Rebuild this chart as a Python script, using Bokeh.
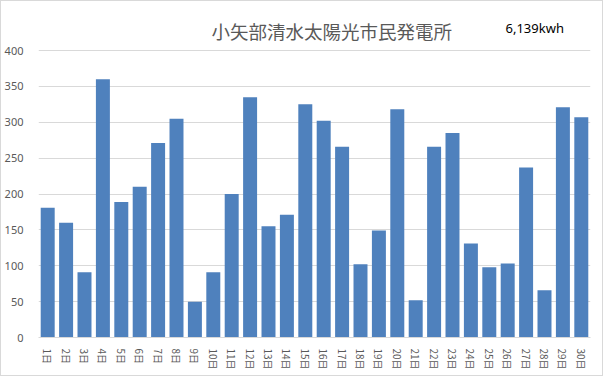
from bokeh.plotting import figure
from bokeh.models import Range1d, FixedTicker, Label, FactorRange
from bokeh.embed import file_html
from bokeh.resources import INLINE

title_text = "小矢部清水太陽光市民発電所"
total_text = "6,139kwh"
days = [f"{i}日" for i in range(1, 31)]
values = [181, 160, 91, 360, 189, 210, 271, 305, 50, 91,
          200, 335, 155, 171, 325, 302, 266, 102, 149, 318,
          52, 266, 285, 131, 98, 103, 237, 66, 321, 307]
y_ticks = [0, 50, 100, 150, 200, 250, 300, 350, 400]

# The frame reaches the top of the canvas so that the title texts (frame-clipped
# labels) can sit above the 400 gridline; the axis max (400) lands 287px above 0.
frame_h = 336
y_top = 400 * frame_h / 287.0

p = figure(width=603, height=376, x_range=FactorRange(*days, range_padding=0),
           y_range=Range1d(0, y_top), output_backend="svg", toolbar_location=None,
           min_border_left=37, min_border_right=14, min_border_top=0, min_border_bottom=40)
p.styles = {"border": "1px solid #d9d9d9"}

p.vbar(x=days, top=values, width=0.76, color="#4f81bd", line_color=None)

p.outline_line_color = None
p.xgrid.grid_line_color = None
p.ygrid.grid_line_color = "#d9d9d9"
p.ygrid.grid_line_width = 1

p.yaxis.ticker = FixedTicker(ticks=y_ticks)
p.yaxis.axis_line_color = None
p.yaxis.major_tick_line_color = None
p.yaxis.minor_tick_line_color = None
p.yaxis.major_label_text_color = "#595959"
p.yaxis.major_label_text_font = "Noto Sans"
p.yaxis.major_label_text_font_size = "11px"
p.yaxis.major_label_standoff = 9

p.xaxis.axis_line_color = "#d9d9d9"
p.xaxis.major_tick_line_color = None
p.xaxis.minor_tick_line_color = None
p.xaxis.major_label_orientation = "vertical"
p.xaxis.major_label_text_color = "#595959"
p.xaxis.major_label_text_font = "Noto Sans CJK JP"
p.xaxis.major_label_text_font_size = "10px"
p.xaxis.major_label_standoff = 5

title = Label(x=173, y=307, x_units="screen", y_units="screen", text=title_text,
              text_font="Noto Sans CJK JP", text_font_size="18.5px",
              text_color="#595959", text_baseline="middle")
p.add_layout(title)

total = Label(x=467, y=310, x_units="screen", y_units="screen", text=total_text,
              text_font="Noto Sans", text_font_size="13px", text_color="#000000",
              text_baseline="middle")
p.add_layout(total)

open("out.html", "w").write(file_html(p, INLINE))
